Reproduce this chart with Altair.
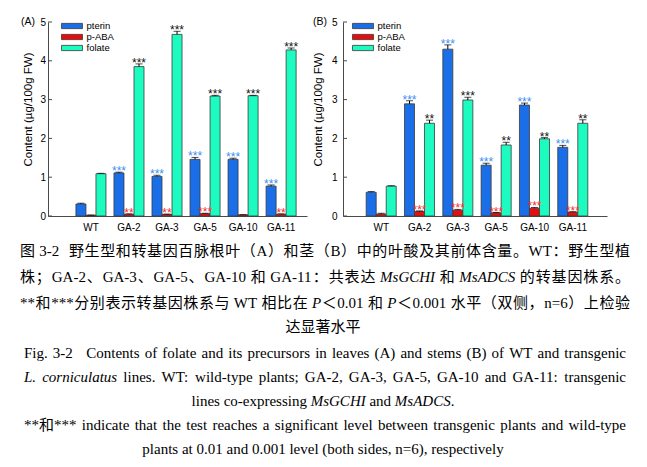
import altair as alt
import pandas as pd

categories = ["WT", "GA-2", "GA-3", "GA-5", "GA-10", "GA-11"]
series = ["pterin", "p-ABA", "folate"]
y_ticks = [0, 1, 2, 3, 4, 5]

# (A) leaves
leaf_pterin = [0.31, 1.11, 1.02, 1.46, 1.46, 0.77]
leaf_paba = [0.02, 0.045, 0.04, 0.06, 0.03, 0.045]
leaf_folate = [1.09, 3.85, 4.68, 3.09, 3.10, 4.28]
leaf_pterin_se = [0.02, 0.02, 0.03, 0.05, 0.03, 0.03]
leaf_paba_se = [0.005, 0.01, 0.01, 0.01, 0.005, 0.01]
leaf_folate_se = [0.01, 0.07, 0.08, 0.02, 0.01, 0.05]
leaf_pterin_sig = ["", "***", "***", "***", "***", "***"]
leaf_paba_sig = ["", "**", "**", "***", "", "**"]
leaf_folate_sig = ["", "***", "***", "***", "***", "***"]

# (B) stems
stem_pterin = [0.61, 2.89, 4.30, 1.31, 2.86, 1.77]
stem_paba = [0.05, 0.12, 0.15, 0.08, 0.20, 0.10]
stem_folate = [0.77, 2.39, 2.99, 1.83, 1.99, 2.39]
stem_pterin_se = [0.02, 0.08, 0.11, 0.05, 0.05, 0.05]
stem_paba_se = [0.02, 0.01, 0.02, 0.01, 0.02, 0.01]
stem_folate_se = [0.01, 0.08, 0.07, 0.07, 0.03, 0.09]
stem_pterin_sig = ["", "***", "***", "***", "***", "***"]
stem_paba_sig = ["", "***", "***", "***", "***", "***"]
stem_folate_sig = ["", "**", "***", "**", "**", "**"]

bar_colors = ["#1a6fe8", "#e80c0c", "#1dfcc0"]
star_colors = {"pterin": "#3d8ff0", "p-ABA": "#f52a2a", "folate": "#111111"}
AX = "#4a4a4a"
SANS = "Liberation Sans"
SERIF = "'Liberation Serif', 'Noto Sans CJK SC', serif"


def panel_frame(vals, ses, sigs):
    rows = []
    for i, c in enumerate(categories):
        for s, v, e, g in zip(series, vals, ses, sigs):
            rows.append(dict(cat=c, ser=s, val=v[i], top=v[i] + e[i],
                             stars=g[i], starcol=star_colors[s]))
    return pd.DataFrame(rows)


def panel(df, width, pad_outer, align, label_pad, title_x, tag, tag_x, legend_x):
    x = alt.X("cat:N", sort=categories,
              scale=alt.Scale(paddingInner=0.21, paddingOuter=pad_outer, align=align),
              axis=alt.Axis(title=None, labelAngle=0, ticks=False, tickSize=0,
                            labelPadding=6, domainColor=AX, labelFont=SANS,
                            labelFontSize=10, labelColor="#000"))
    xo = alt.XOffset("ser:N", sort=series,
                     scale=alt.Scale(domain=series, paddingInner=0, paddingOuter=0))
    yscale = alt.Scale(domain=[0, 5], nice=False)
    yaxis = alt.Axis(values=y_ticks, tickCount=6, format="d",
                     title="Content (µg/100g FW)",
                     ticks=False, tickSize=0, grid=False, domainColor=AX,
                     labelOverlap=False, labelFlush=False,
                     labelPadding=label_pad, labelFont=SANS, labelFontSize=10,
                     labelColor="#000", titleFont=SANS, titleFontSize=11.5,
                     titleFontWeight="normal", titleColor="#000",
                     titleAngle=270, titleX=title_x, titleY=87,
                     titleAlign="center", titleBaseline="middle")

    def Y(f):
        return alt.Y(f, scale=yscale, axis=yaxis)

    base = alt.Chart(df)
    bars = base.mark_bar(stroke="#3a3a3a", strokeWidth=0.8).encode(
        x=x, xOffset=xo, y=Y("val:Q"),
        color=alt.Color("ser:N", sort=series,
                        scale=alt.Scale(domain=series, range=bar_colors),
                        legend=alt.Legend(orient="none", legendX=legend_x, legendY=-2,
                                          title=None, symbolType="M-2,-0.5H2V0.5H-2Z",
                                          symbolSize=110, symbolStrokeColor="#3a3a3a",
                                          symbolStrokeWidth=0.8, symbolOpacity=1,
                                          labelFont=SANS, labelFontSize=9.5,
                                          labelColor="#000", labelOffset=8.5,
                                          rowPadding=-3.5)))
    err = base.mark_rule(color="#000", strokeWidth=1).encode(
        x=x, xOffset=xo, y=Y("val:Q"), y2="top:Q")
    caps = base.mark_tick(color="#000", thickness=1, size=7, orient="horizontal").encode(
        x=x, xOffset=xo, y=Y("top:Q"))
    stars = base.mark_text(font=SANS, fontSize=12, baseline="alphabetic", dy=3).encode(
        x=x, xOffset=xo, y=Y("top:Q"), text="stars:N",
        fill=alt.Fill("starcol:N", scale=None))
    inticks = alt.Chart(pd.DataFrame({"t": y_ticks})).mark_rule(
        color=AX, strokeWidth=1).encode(y=Y("t:Q"), x=alt.value(0), x2=alt.value(4))
    label = alt.Chart(pd.DataFrame({"t": [tag]})).mark_text(
        font=SANS, fontSize=10.5, align="left", baseline="middle", color="#000").encode(
        text="t:N", x=alt.value(tag_x), y=alt.value(0))
    return alt.layer(bars, err, caps, stars, inticks, label).properties(
        width=width, height=194)


dfA = panel_frame((leaf_pterin, leaf_paba, leaf_folate),
                  (leaf_pterin_se, leaf_paba_se, leaf_folate_se),
                  (leaf_pterin_sig, leaf_paba_sig, leaf_folate_sig))
dfB = panel_frame((stem_pterin, stem_paba, stem_folate),
                  (stem_pterin_se, stem_paba_se, stem_folate_se),
                  (stem_pterin_sig, stem_paba_sig, stem_folate_sig))

A = panel(dfA, 259, 0.51, 0.72, 2.5, -20, "(A)", -27, 18)
B = panel(dfB, 264, 0.55, 0.55, 6, -24.5, "(B)", -30, 14)

# ---------------- caption (typeset text) ----------------
FS = 15
TR = {' ': 250, '!': 333, '(': 333, ')': 333, '*': 500, ',': 250, '-': 333, '.': 250,
      '/': 278, ':': 278, ';': 278, '=': 564,
      'A': 722, 'B': 667, 'C': 667, 'D': 722, 'E': 611, 'F': 556, 'G': 722, 'H': 722,
      'I': 333, 'J': 389, 'K': 722, 'L': 611, 'M': 889, 'N': 722, 'O': 722, 'P': 556,
      'Q': 722, 'R': 667, 'S': 556, 'T': 611, 'U': 722, 'V': 722, 'W': 944, 'X': 722,
      'Y': 722, 'Z': 611,
      'a': 444, 'b': 500, 'c': 444, 'd': 500, 'e': 444, 'f': 333, 'g': 500, 'h': 500,
      'i': 278, 'j': 278, 'k': 500, 'l': 278, 'm': 778, 'n': 500, 'o': 500, 'p': 500,
      'q': 500, 'r': 333, 's': 389, 't': 278, 'u': 500, 'v': 500, 'w': 722, 'x': 500,
      'y': 500, 'z': 444}
for d in "0123456789":
    TR[d] = 500
TI = {'A': 611, 'C': 667, 'D': 722, 'G': 722, 'H': 722, 'I': 333, 'L': 556, 'M': 833,
      'P': 611, 'S': 500, '.': 250, ' ': 250, 'a': 500, 'c': 444, 'i': 278, 'l': 278,
      'n': 500, 'o': 500, 'r': 389, 's': 389, 't': 278, 'u': 500}


def is_cjk(ch):
    return ord(ch) >= 0x2E80


def text_w(s, it):
    tot = 0.0
    for ch in s:
        if is_cjk(ch):
            tot += 1000
        else:
            tot += (TI if it else TR).get(ch, TR.get(ch, 500))
    return tot * FS / 1000.0


def tokenize(segs):
    toks = []
    gap = 0.0
    for seg in segs:
        if seg[0] is None:
            gap += seg[1]
            continue
        text, it = seg
        cur = ""
        for ch in text:
            if ch == " ":
                if cur:
                    toks.append([cur, it, gap]); cur = ""; gap = 0.0
                gap += 0.25 * FS
            elif is_cjk(ch):
                if cur:
                    toks.append([cur, it, gap]); cur = ""; gap = 0.0
                toks.append([ch, it, gap]); gap = 0.0
            else:
                cur += ch
        if cur:
            toks.append([cur, it, gap]); gap = 0.0
    return toks


# page coordinates of the caption block
CJK_L, CJK_R = 20, 630
EN_L, EN_R = 24, 626
CENTER = 323

caption_lines = [
    ([("图 3-2", 0), (None, 9), ("野生型和转基因百脉根叶（A）和茎（B）中的叶酸及其前体含量。WT：野生型植", 0)], "jc", 250),
    ([("株；GA-2、GA-3、GA-5、GA-10 和 GA-11：共表达 ", 0), ("MsGCHI", 1), (" 和 ", 0),
      ("MsADCS", 1), (" 的转基因株系。", 0)], "jc", 276),
    ([("**和***分别表示转基因株系与 WT 相比在 ", 0), ("P", 1), ("＜0.01 和 ", 0), ("P", 1),
      ("＜0.001 水平（双侧，n=6）上检验", 0)], "jc", 302),
    ([("达显著水平", 0)], "c", 326),
    ([("Fig. 3-2", 0), (None, 12), ("Contents of folate and its precursors in leaves (A) and stems (B) of WT and transgenic", 0)], "je", 352),
    ([("L. corniculatus", 1), (" lines. WT: wild-type plants; GA-2, GA-3, GA-5, GA-10 and GA-11: transgenic", 0)], "je", 376),
    ([("lines co-expressing ", 0), ("MsGCHI", 1), (" and ", 0), ("MsADCS", 1), (".", 0)], "c", 400),
    ([("**和*** indicate that the test reaches a significant level between transgenic plants and wild-type", 0)], "je", 424),
    ([("plants at 0.01 and 0.001 level (both sides, n=6), respectively", 0)], "c", 448),
]

ORIGIN_X, ORIGIN_Y = 48, 230
cap_rows = []
for segs, mode, yc in caption_lines:
    toks = tokenize(segs)
    widths = [text_w(t[0], t[1]) for t in toks]
    natural = sum(widths) + sum(t[2] for t in toks[1:])
    if mode == "jc":
        left, right = CJK_L, CJK_R
        n = len(toks) - 1
        extra = [(right - left - natural) / n] * n
    elif mode == "je":
        left, right = EN_L, EN_R
        idx = [i for i in range(1, len(toks)) if toks[i][2] > 0]
        e = (right - left - natural) / len(idx)
        extra = [e if toks[i][2] > 0 else 0 for i in range(1, len(toks))]
    else:
        left = CENTER - natural / 2
        extra = [0] * (len(toks) - 1)
    xpos = left
    for i, t in enumerate(toks):
        if i > 0:
            xpos += t[2] + extra[i - 1]
        cap_rows.append(dict(t=t[0], it=t[1], x=xpos - ORIGIN_X, y=yc + 5.5 - ORIGIN_Y))
        xpos += widths[i]

cap_df = pd.DataFrame(cap_rows)

cap_norm = alt.Chart(cap_df).transform_filter("datum.it == 0").mark_text(
    align="left", baseline="alphabetic", font=SERIF, fontSize=FS, color="#000").encode(
    x=alt.X("x:Q", scale=None, axis=None), y=alt.Y("y:Q", scale=None, axis=None), text="t:N")
cap_ital = alt.Chart(cap_df).transform_filter("datum.it == 1").mark_text(
    align="left", baseline="alphabetic", font=SERIF, fontSize=FS, fontStyle="italic",
    color="#000").encode(
    x=alt.X("x:Q", scale=None, axis=None), y=alt.Y("y:Q", scale=None, axis=None), text="t:N")
frame = alt.Chart(pd.DataFrame({"a": [0]})).mark_rect(
    fillOpacity=0, strokeOpacity=0).encode(
    x=alt.value(8 - ORIGIN_X), x2=alt.value(639 - ORIGIN_X),
    y=alt.value(8 - ORIGIN_Y), y2=alt.value(459 - ORIGIN_Y))
caption = alt.layer(frame, cap_norm, cap_ital).properties(width=1, height=1)

chart = alt.concat(A, B, caption, columns=2, spacing={"row": 14, "column": 36},
                   bounds="flush").resolve_scale(
    color="independent", x="independent", y="independent").resolve_legend(
    color="independent").properties(
    padding=0, background="white").configure_view(stroke=None)

chart.save("out.html", embed_options={"renderer": "svg", "actions": False})
